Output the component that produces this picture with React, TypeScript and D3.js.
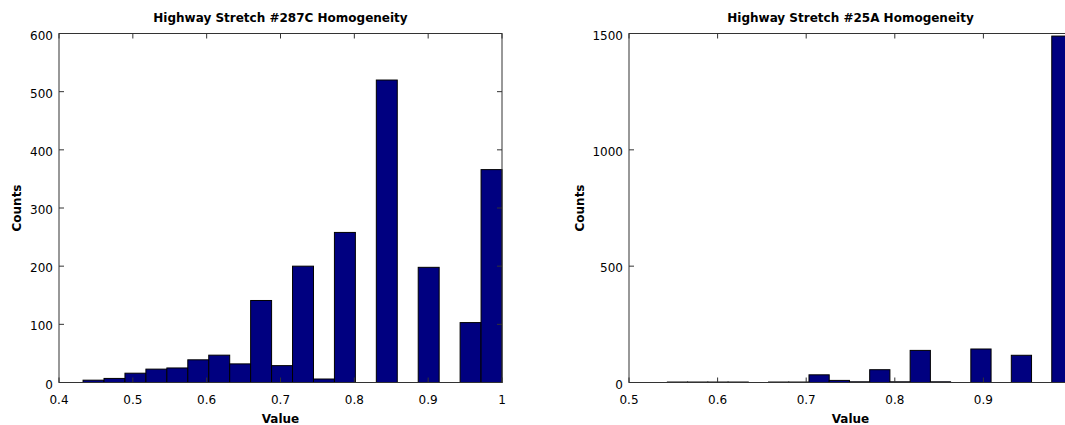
import React from 'react';
import * as d3 from 'd3';

const leftTitle = 'Highway Stretch #287C Homogeneity';
const rightTitle = 'Highway Stretch #25A Homogeneity';
const leftCounts = [4, 7, 16, 23, 25, 39, 47, 32, 141, 29, 200, 6, 258, 0, 520, 0, 198, 0, 103, 366];
const leftRange: [number, number] = [0.4326, 1.0];
const rightCounts = [2, 2, 2, 2, 0, 2, 2, 33, 9, 3, 55, 3, 138, 3, 0, 144, 0, 117, 0, 1489];
const rightRange: [number, number] = [0.5433, 1.0];
const leftXTicks = [0.4, 0.5, 0.6, 0.7, 0.8, 0.9, 1];
const leftYTicks = [0, 100, 200, 300, 400, 500, 600];
const rightXTicks = [0.5, 0.6, 0.7, 0.8, 0.9];
const rightYTicks = [0, 500, 1000, 1500];
const xLabel = 'Value';
const yLabel = 'Counts';

const FONT = '"DejaVu Sans", Verdana, sans-serif';
const AXIS = '#333';

interface PanelProps {
  x0: number;
  x1: number;
  y0: number;
  y1: number;
  xDomain: [number, number];
  yDomain: [number, number];
  xTicks: number[];
  yTicks: number[];
  counts: number[];
  range: [number, number];
  title: string;
  yLabelX: number;
}

function Panel(p: PanelProps) {
  const x = d3.scaleLinear().domain(p.xDomain).range([p.x0, p.x1]);
  const y = d3.scaleLinear().domain(p.yDomain).range([p.y1, p.y0]);
  const n = p.counts.length;
  const w = (p.range[1] - p.range[0]) / n;
  const bins = p.counts.map((c, i) => ({ a: p.range[0] + i * w, b: p.range[0] + (i + 1) * w, c }));
  const tl = 5;
  const cx = (p.x0 + p.x1) / 2;
  const cy = (p.y0 + p.y1) / 2;
  return (
    <g>
      <rect x={p.x0} y={p.y0} width={p.x1 - p.x0} height={p.y1 - p.y0} fill="#fff" />
      {bins.filter(d => d.c > 0).map((d, i) => (
        <rect
          key={i}
          x={x(d.a)}
          y={y(d.c)}
          width={x(d.b) - x(d.a)}
          height={y(0) - y(d.c)}
          fill="#000080"
          stroke="#000"
          strokeWidth={1}
        />
      ))}
      <rect x={p.x0} y={p.y0} width={p.x1 - p.x0} height={p.y1 - p.y0} fill="none" stroke={AXIS} strokeWidth={1} />
      {p.xTicks.map((t, i) => (
        <g key={'xt' + i}>
          <line x1={x(t)} x2={x(t)} y1={p.y1} y2={p.y1 - tl} stroke={AXIS} />
          <line x1={x(t)} x2={x(t)} y1={p.y0} y2={p.y0 + tl} stroke={AXIS} />
          <text x={x(t)} y={p.y1 + 21} textAnchor="middle" fontFamily={FONT} fontSize={12} fill="#000">
            {String(t)}
          </text>
        </g>
      ))}
      {p.yTicks.map((t, i) => (
        <g key={'yt' + i}>
          <line x1={p.x0} x2={p.x0 + tl} y1={y(t)} y2={y(t)} stroke={AXIS} />
          <line x1={p.x1} x2={p.x1 - tl} y1={y(t)} y2={y(t)} stroke={AXIS} />
          <text x={p.x0 - 6} y={y(t) + 6} textAnchor="end" fontFamily={FONT} fontSize={12} fill="#000">
            {String(t)}
          </text>
        </g>
      ))}
      <text x={cx} y={22} textAnchor="middle" fontFamily={FONT} fontSize={12} fontWeight="bold" fill="#000">
        {p.title}
      </text>
      <text x={cx} y={423} textAnchor="middle" fontFamily={FONT} fontSize={12} fontWeight="bold" fill="#000">
        {xLabel}
      </text>
      <text
        transform={`translate(${p.yLabelX},${cy}) rotate(-90)`}
        textAnchor="middle"
        fontFamily={FONT}
        fontSize={12}
        fontWeight="bold"
        fill="#000"
      >
        {yLabel}
      </text>
    </g>
  );
}

export default function App() {
  return (
    <svg
      width={1065}
      height={425}
      style={{ position: 'absolute', left: 0, top: 0, background: '#fff' }}
    >
      <rect x={0} y={0} width={1065} height={425} fill="#fff" />
      <Panel
        x0={59}
        x1={502}
        y0={33.5}
        y1={382.5}
        xDomain={[0.4, 1]}
        yDomain={[0, 600]}
        xTicks={leftXTicks}
        yTicks={leftYTicks}
        counts={leftCounts}
        range={leftRange}
        title={leftTitle}
        yLabelX={21}
      />
      <Panel
        x0={629}
        x1={1072}
        y0={33.5}
        y1={382.5}
        xDomain={[0.5, 1]}
        yDomain={[0, 1500]}
        xTicks={rightXTicks}
        yTicks={rightYTicks}
        counts={rightCounts}
        range={rightRange}
        title={rightTitle}
        yLabelX={584}
      />
    </svg>
  );
}
